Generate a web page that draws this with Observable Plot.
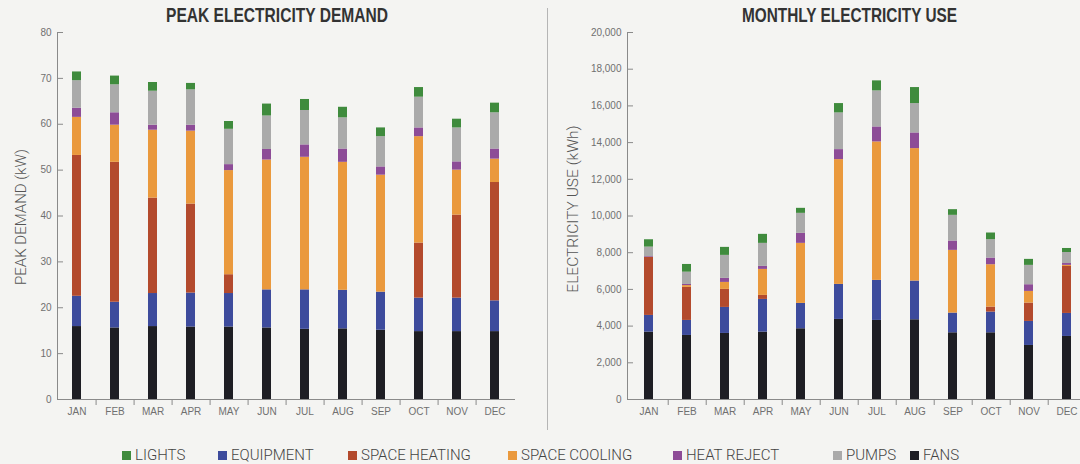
<!DOCTYPE html>
<html>
<head>
<meta charset="utf-8">
<script src="https://cdn.jsdelivr.net/npm/d3@7"></script>
<script src="https://cdn.jsdelivr.net/npm/@observablehq/plot@0.6"></script>
<style>
  html, body { margin:0; padding:0; }
  body { width:1080px; height:464px; overflow:hidden; position:relative; background:#f4f4f2; font-family:"Liberation Sans", Arial, sans-serif; }
  .title { position:absolute; top:4px; font-family:"Liberation Sans", Arial, sans-serif; font-weight:bold; font-size:20px; color:#333; white-space:nowrap; transform-origin:0 50%; }
  .ylab { position:absolute; font-family:Roboto,"Liberation Sans",sans-serif; font-weight:300; color:#555; white-space:nowrap; transform:translate(-50%,-50%) rotate(-90deg); }
  .chart { position:absolute; top:0; }
  .chart svg { max-width:none !important; }
  #sep { position:absolute; left:547px; top:8px; width:1px; height:422px; background:#b5b5b5; }
  #legend { position:absolute; top:446px; left:0; width:1080px; height:18px; }
  .item { position:absolute; top:0; display:flex; align-items:center; font-family:Roboto,"Liberation Sans",sans-serif; font-weight:300; font-size:15px; color:#444; white-space:nowrap; }
  .sw { width:9px; height:9px; margin-right:4px; }
</style>
</head>
<body>
<div class="title" data-center="277" data-width="222">PEAK ELECTRICITY DEMAND</div>
<div class="title" data-center="849" data-width="215">MONTHLY ELECTRICITY USE</div>
<div class="ylab" style="left:21px; top:217px; font-size:15px">PEAK DEMAND (kW)</div>
<div class="ylab" style="left:573px; top:209px; font-size:15.5px">ELECTRICITY USE (kWh)</div>
<div id="sep"></div>
<div id="left" class="chart" style="left:0; width:540px"></div>
<div id="right" class="chart" style="left:548px; width:545px"></div>
<div id="legend"></div>
<script>
const months = ["JAN","FEB","MAR","APR","MAY","JUN","JUL","AUG","SEP","OCT","NOV","DEC"];
// stack order, bottom to top
const seriesNames = ["FANS","EQUIPMENT","SPACE HEATING","SPACE COOLING","HEAT REJECT","PUMPS","LIGHTS"];
const seriesColors = ["#1e1e24","#3d4b9c","#b34a2d","#ea993d","#8d4c97","#aaaaaa","#3f8b3d"];
const legendOrder = ["LIGHTS","EQUIPMENT","SPACE HEATING","SPACE COOLING","HEAT REJECT","PUMPS","FANS"];

// Peak electricity demand (kW)
const peakFans       = [15.9,15.6,15.9,15.8,15.8,15.6,15.3,15.4,15.1,14.8,14.8,14.8];
const peakEquipment  = [6.6,5.6,7.2,7.4,7.3,8.3,8.6,8.4,8.3,7.3,7.3,6.7];
const peakHeating    = [30.7,30.5,20.8,19.4,4.1,0,0,0,0,12.0,18.1,25.8];
const peakCooling    = [8.3,8.1,14.8,15.9,22.7,28.3,28.9,27.9,25.5,23.2,9.8,5.1];
const peakHeatReject = [2.0,2.7,1.1,1.3,1.3,2.3,2.7,2.9,1.8,1.9,1.8,2.2];
const peakPumps      = [6.0,6.1,7.4,7.7,7.7,7.3,7.5,6.8,6.6,6.7,7.4,7.9];
const peakLights     = [1.9,1.9,1.9,1.4,1.7,2.6,2.4,2.3,1.9,2.1,1.9,2.1];
const peakTicks = [0,10,20,30,40,50,60,70,80];

// Monthly electricity use (kWh)
const useFans       = [3673,3490,3600,3673,3855,4364,4309,4345,3636,3636,2945,3436];
const useEquipment  = [909,819,1418,1781,1381,1909,2182,2110,1073,1128,1310,1254];
const useHeating    = [3163,1800,982,218,0,0,0,0,0,272,1000,2560];
const useCooling    = [0,100,381,1418,3273,6800,7545,7218,3418,2309,636,60];
const useHeatReject = [40,60,219,164,545,545,819,854,509,364,364,100];
const usePumps      = [520,670,1254,1255,1091,2000,1963,1600,1400,1000,1054,600];
const useLights     = [400,420,436,491,273,509,546,873,309,364,327,220];
const useTicks = [0,2000,4000,6000,8000,10000,12000,14000,16000,18000,20000];

const peakSeries = [peakFans,peakEquipment,peakHeating,peakCooling,peakHeatReject,peakPumps,peakLights];
const useSeries  = [useFans,useEquipment,useHeating,useCooling,useHeatReject,usePumps,useLights];

function rows(seriesArrays) {
  return months.flatMap((m, i) => seriesNames.map((s, k) => ({month: m, series: s, value: seriesArrays[k][i]})));
}

const axisColor = "#8a8a8a";
function chart({data, width, ml, mr, yMax, ticks, fmt}) {
  const mt = 32, mb = 21, height = 420;
  const step = (width - ml - mr) / months.length;
  return Plot.plot({
    width, height, marginTop: mt, marginBottom: mb, marginLeft: ml, marginRight: mr,
    style: {background: "transparent", fontFamily: "'Liberation Sans', Arial, sans-serif", fontSize: "10px", color: "#666", overflow: "visible", maxWidth: "none"},
    x: {domain: months, paddingInner: 0.76, paddingOuter: 0.38, label: null},
    y: {domain: [0, yMax], label: null},
    color: {domain: seriesNames, range: seriesColors},
    marks: [
      Plot.barY(data, {x: "month", y: "value", fill: "series", order: seriesNames}),
      Plot.frame({anchor: "left", stroke: axisColor}),
      Plot.ruleY([0], {stroke: axisColor}),
      Plot.axisY({ticks, tickSize: 6, dx: 6, fill: "none", stroke: axisColor, label: null}),
      Plot.axisY({ticks, tickSize: 0, tickPadding: 6, tickFormat: fmt, fill: "#707070", label: null}),
      Plot.axisX({ticks: months.slice(0, 11), tickSize: 6, dx: step / 2, fill: "none", stroke: axisColor, label: null}),
      Plot.axisX({tickSize: 0, tickPadding: 8, fill: "#707070", label: null})
    ]
  });
}

document.getElementById("left").append(chart({
  data: rows(peakSeries), width: 540, ml: 57, mr: 25, yMax: 80, ticks: peakTicks, fmt: d3.format("d")
}));
document.getElementById("right").append(chart({
  data: rows(useSeries), width: 545, ml: 79, mr: 5, yMax: 20000, ticks: useTicks, fmt: d3.format(",")
}));

// fit condensed titles to the reference width
for (const el of document.querySelectorAll(".title")) {
  const w = el.getBoundingClientRect().width;
  const target = +el.dataset.width, center = +el.dataset.center;
  el.style.left = (center - target / 2) + "px";
  el.style.transform = `scaleX(${target / w})`;
}

// legend
const legendX = [122, 218, 348, 508, 673, 833, 910];
const legend = document.getElementById("legend");
legendOrder.forEach((name, i) => {
  const item = document.createElement("div");
  item.className = "item";
  item.style.left = legendX[i] + "px";
  const sw = document.createElement("span");
  sw.className = "sw";
  sw.style.background = seriesColors[seriesNames.indexOf(name)];
  const t = document.createElement("span");
  t.textContent = name;
  item.append(sw, t);
  legend.append(item);
});
</script>
</body>
</html>
